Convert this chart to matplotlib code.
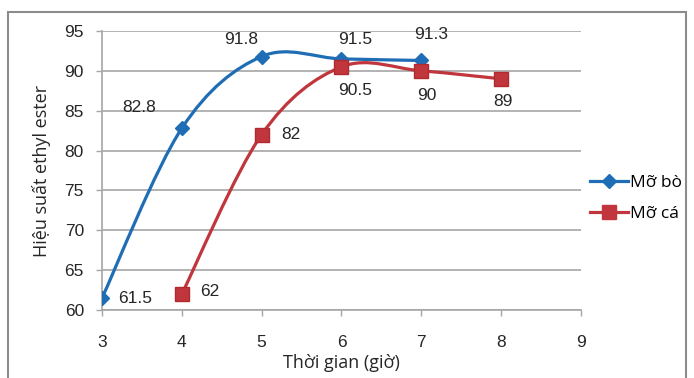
import numpy as np
import matplotlib
matplotlib.use("Agg")
import matplotlib.pyplot as plt
from matplotlib.path import Path
from matplotlib.patches import PathPatch, Rectangle
from matplotlib.lines import Line2D

# data
hours_bo = [3, 4, 5, 6, 7]
yield_bo = [61.5, 82.8, 91.8, 91.5, 91.3]
hours_ca = [4, 5, 6, 7, 8]
yield_ca = [62, 82, 90.5, 90, 89]
labels_bo = ["61.5", "82.8", "91.8", "91.5", "91.3"]
labels_ca = ["62", "82", "90.5", "90", "89"]
xticks = [3, 4, 5, 6, 7, 8, 9]
yticks = [60, 65, 70, 75, 80, 85, 90, 95]

blue = "#1f6db5"
red = "#c0363c"
grid_c = "#a6a6a6"


def smooth_path(xs, ys):
    # Excel-like smoothed line: cubic bezier through the points
    p = np.column_stack([xs, ys]).astype(float)
    n = len(p)
    verts = [p[0]]
    codes = [Path.MOVETO]
    for i in range(n - 1):
        p0 = p[i - 1] if i > 0 else p[i]
        p3 = p[i + 2] if i + 2 < n else p[i + 1]
        c1 = p[i] + (p[i + 1] - p0) / 6
        c2 = p[i + 1] - (p3 - p[i]) / 6
        verts += [c1, c2, p[i + 1]]
        codes += [Path.CURVE4] * 3
    return Path(verts, codes)


plt.rcParams["font.family"] = ["Liberation Sans", "DejaVu Sans"]
label_font = ["Open Sans", "DejaVu Sans"]
fig = plt.figure(figsize=(6.94, 3.78), dpi=100)
ax = fig.add_axes([0.147, 0.180, 0.690, 0.738])

ax.add_patch(PathPatch(smooth_path(hours_bo, yield_bo), fill=False,
                       edgecolor=blue, lw=2.3, zorder=3))
ax.add_patch(PathPatch(smooth_path(hours_ca, yield_ca), fill=False,
                       edgecolor=red, lw=2.3, zorder=3))
ax.plot(hours_bo, yield_bo, ls="none", marker="D", ms=7, color=blue, zorder=4)
ax.plot(hours_ca, yield_ca, ls="none", marker="s", ms=10, color=red,
        mec="#b02a30", zorder=4)

# data labels (offsets in points)
off_bo = [(24, 0), (-31, 15), (-15, 12), (10, 14), (7, 19)]
off_ca = [(20, 2), (21, 0), (10, -17), (4, -18), (1, -16)]
for x, y, t, o in zip(hours_bo, yield_bo, labels_bo, off_bo):
    ax.annotate(t, (x, y), xytext=o, textcoords="offset points",
                ha="center", va="center", fontsize=12.5, color="#262626")
for x, y, t, o in zip(hours_ca, yield_ca, labels_ca, off_ca):
    ax.annotate(t, (x, y), xytext=o, textcoords="offset points",
                ha="center", va="center", fontsize=12.5, color="#262626")

ax.set_xlim(3, 9)
ax.set_ylim(60, 95)
ax.set_xticks(xticks)
ax.set_yticks(yticks)
ax.tick_params(labelsize=12.5, colors="#262626", length=4, width=1)
ax.tick_params(axis="x", color=grid_c, pad=14)
ax.tick_params(axis="y", color=grid_c, pad=9)
ax.grid(axis="y", color=grid_c, lw=1.2)
ax.set_axisbelow(True)
for s in ["top", "right"]:
    ax.spines[s].set_visible(False)
for s in ["left", "bottom"]:
    ax.spines[s].set_color(grid_c)
    ax.spines[s].set_linewidth(1.2)

ax.set_xlabel("Thời gian (giờ)", fontsize=13, family=label_font,
              color="#262626", labelpad=3)
ax.set_ylabel("Hiệu suất ethyl ester", fontsize=13, family=label_font,
              color="#262626", labelpad=10)

handles = [Line2D([], [], color=blue, lw=2.3, marker="D", ms=7),
           Line2D([], [], color=red, lw=2.3, marker="s", ms=10)]
fig.legend(handles, ["Mỡ bò", "Mỡ cá"], loc="center left",
           bbox_to_anchor=(0.828, 0.475), frameon=False,
           handlelength=2.2, handletextpad=0.1, labelspacing=0.85,
           prop={"family": label_font, "size": 12.5})

fig.add_artist(Rectangle((8 / 694, -0.05), 678 / 694, 1 + 0.05 - 12 / 378,
                         transform=fig.transFigure, fill=False,
                         edgecolor="#8c8c8c", lw=1.5))

fig.savefig("out.png", dpi=100)
